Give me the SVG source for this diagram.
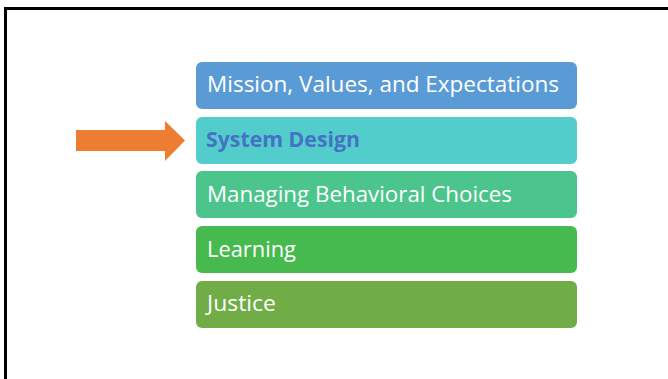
<svg xmlns="http://www.w3.org/2000/svg" width="668" height="379" viewBox="0 0 668 379">
<style>
.box{stroke:none}
.t{font-family:"Open Sans","Liberation Sans",sans-serif;font-size:21px;fill:#ffffff}
.tb{font-family:"Open Sans","Liberation Sans",sans-serif;font-size:21px;font-weight:bold;fill:#4472C4}
</style>
<rect x="0" y="0" width="668" height="379" fill="#ffffff"/>
<path d="M5.5 379 V8.5 H668" fill="none" stroke="#000000" stroke-width="3"/>
<g id="connectors">
<path d="M76 130 H165 V121 L185 140.5 L165 161 V151 H76 Z" fill="#ED7D31"/>
</g>
<g id="n1"><rect class="box" x="196" y="62" width="381" height="47" rx="6" fill="#5B9BD5"/><text class="t" x="207" y="92" textLength="352" lengthAdjust="spacingAndGlyphs">Mission, Values, and Expectations</text></g>
<g id="n2"><rect class="box" x="196" y="117" width="381" height="47" rx="6" fill="#53CCCC"/><text class="tb" x="206" y="147" textLength="154" lengthAdjust="spacingAndGlyphs">System Design</text></g>
<g id="n3"><rect class="box" x="196" y="171" width="381" height="47" rx="6" fill="#4CC58C"/><text class="t" x="207" y="202" textLength="305" lengthAdjust="spacingAndGlyphs">Managing Behavioral Choices</text></g>
<g id="n4"><rect class="box" x="196" y="226" width="381" height="47" rx="6" fill="#47BA4F"/><text class="t" x="207" y="257" textLength="89" lengthAdjust="spacingAndGlyphs">Learning</text></g>
<g id="n5"><rect class="box" x="196" y="281" width="381" height="47" rx="6" fill="#70AD47"/><text class="t" x="207" y="311" textLength="69" lengthAdjust="spacingAndGlyphs">Justice</text></g>
</svg>
